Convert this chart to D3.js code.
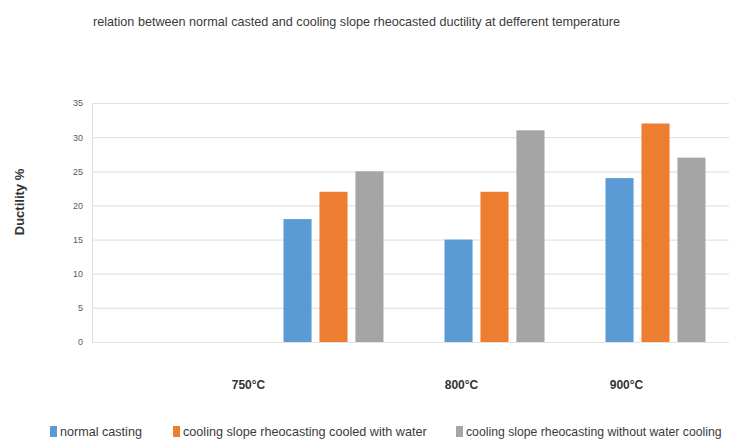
<!DOCTYPE html>
<html>
<head>
<meta charset="utf-8">
<script src="https://cdn.jsdelivr.net/npm/d3@7"></script>
<style>
  html, body { margin: 0; padding: 0; background: #fff; }
  svg { display: block; }
  text { font-family: "Liberation Sans Narrow", "Liberation Sans", "DejaVu Sans Condensed", sans-serif; }
</style>
</head>
<body>
<svg id="chart" width="729" height="439"></svg>
<script>
// Temperatures along the x axis (first slot is left empty)
const categories = ["", "750°C", "800°C", "900°C"];
const seriesNames = [
  "normal casting",
  "cooling slope rheocasting cooled with water",
  "cooling slope rheocasting without water cooling"
];
// Ductility % per temperature, one array per series
const normalCasting = [null, 18, 15, 24];
const cooledWithWater = [null, 22, 22, 32];
const withoutWaterCooling = [null, 25, 31, 27];
const yTicks = [0, 5, 10, 15, 20, 25, 30, 35];
const colors = ["#5B9BD5", "#ED7D31", "#A5A5A5"];

const title = "relation between normal casted and cooling slope rheocasted ductility at defferent temperature";
const yTitle = "Ductility %";

const series = [normalCasting, cooledWithWater, withoutWaterCooling];

const svg = d3.select("#chart");
const plot = { left: 92, right: 736, top: 103, bottom: 342 };

const x0 = d3.scaleBand().domain(categories).range([plot.left, plot.right]).padding(0);
const x1 = d3.scaleBand().domain(d3.range(series.length))
  .range([0, 100]).paddingInner(0.22).paddingOuter(0);
const groupOffset = (x0.bandwidth() - 100) / 2;
const y = d3.scaleLinear().domain([0, 35]).range([plot.bottom, plot.top]);

// Draws text squeezed horizontally so it spans the given width
function narrowText(parent, str, x, yPos, width, size, fill) {
  const g = parent.append("g");
  const t = g.append("text").attr("x", 0).attr("y", 0)
    .attr("font-size", size).attr("fill", fill).text(str);
  const natural = t.node().getComputedTextLength();
  g.attr("transform", `translate(${x},${yPos}) scale(${width / natural},1)`);
  return t;
}

// Title
narrowText(svg, title, 93, 26, 528, 13, "#3a3a3a");

// Horizontal gridlines and left axis line
const yAxis = d3.axisLeft(y).tickValues(yTicks).tickSize(-(plot.right - plot.left)).tickPadding(9);
const gy = svg.append("g").attr("transform", `translate(${plot.left},0)`).call(yAxis);
gy.select(".domain").attr("stroke", "#dcdcdc");
gy.selectAll(".tick line").attr("stroke", "#e3e3e3").attr("stroke-width", 1.2);
gy.selectAll(".tick text")
  .attr("font-size", 9).attr("fill", "#595959")
  .style("font-family", "'Liberation Sans Narrow', sans-serif");

// Bars
categories.forEach((cat, ci) => {
  series.forEach((vals, si) => {
    const v = vals[ci];
    if (v == null) return;
    svg.append("rect")
      .attr("x", x0(cat) + groupOffset + x1(si))
      .attr("y", y(v))
      .attr("width", x1.bandwidth())
      .attr("height", y(0) - y(v))
      .attr("fill", colors[si]);
  });
});

// Category labels, shifted left of their bar groups
const labelShift = [0, -85, -33, -29];
categories.forEach((cat, ci) => {
  if (!cat) return;
  svg.append("text")
    .attr("x", x0(cat) + x0.bandwidth() / 2 + labelShift[ci])
    .attr("y", 389)
    .attr("text-anchor", "middle")
    .attr("font-size", 12).attr("font-weight", "bold").attr("fill", "#333")
    .text(cat);
});

// Y axis title
svg.append("text")
  .attr("transform", "translate(24,202) rotate(-90)")
  .attr("text-anchor", "middle")
  .attr("font-size", 13).attr("font-weight", "bold").attr("fill", "#333")
  .style("font-family", "'Liberation Sans', sans-serif")
  .text(yTitle);

// Legend
const legendX = [50, 173, 456];
const legendW = [82, 244, 256];
seriesNames.forEach((name, i) => {
  svg.append("rect").attr("x", legendX[i]).attr("y", 426)
    .attr("width", 7).attr("height", 11).attr("fill", colors[i]);
  narrowText(svg, name, legendX[i] + 10, 436, legendW[i], 13, "#3a3a3a");
});
</script>
</body>
</html>
